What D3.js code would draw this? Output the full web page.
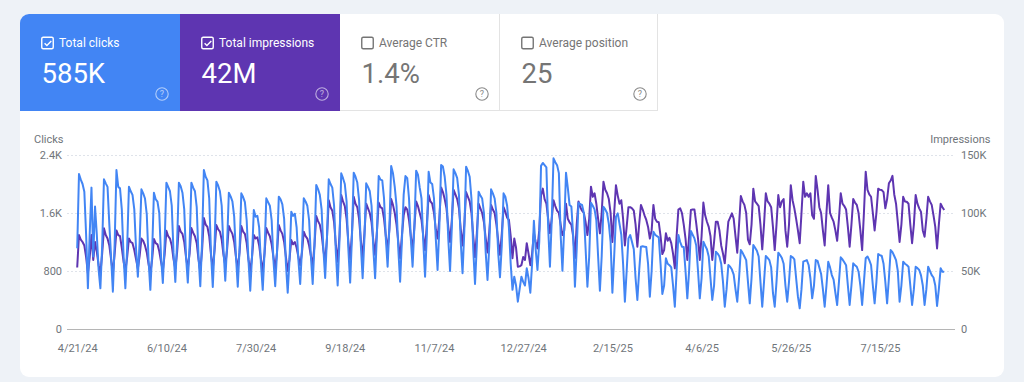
<!DOCTYPE html>
<html><head><meta charset="utf-8">
<script src="https://cdn.jsdelivr.net/npm/d3@7"></script>
<style>
html,body{margin:0;padding:0;background:#eef2f7;}
svg{display:block;font-family:Roboto,"Noto Sans",sans-serif;}
</style></head>
<body><svg id="chart" width="1024" height="382"></svg>
<script>
// ---------- data ----------
const startDate = "2024-04-21"; // first day, one value per day
const clicks = [
1113,2137,2060,2000,1894,1300,561,
1300,1950,1000,1690,1300,820,561,
1150,2064,2009,1960,1450,990,515,
1180,2193,1960,1940,1650,1000,561,
1120,1963,1900,1850,1650,1100,720,
1200,1926,1870,1800,1580,950,540,
1050,1880,1790,1756,1600,1000,634,
1180,2018,1960,1900,1700,1050,650,
1200,2018,1970,1880,1650,1000,640,
1150,2018,1950,1900,1680,1000,590,
1200,2193,2100,2050,1800,1050,580,
1150,2032,1980,1900,1700,1100,666,
1150,1880,1830,1760,1550,1000,583,
1100,1871,1820,1750,1500,950,528,
1000,1641,1549,1560,1400,900,540,
1050,1802,1750,1700,1500,950,590,
1050,1825,1790,1720,1520,900,500,
950,1618,1560,1590,1400,950,620,
1100,1802,1760,1700,1500,1000,620,
1150,1986,1930,1850,1650,1100,703,
1250,2064,2000,1950,1700,1050,600,
1200,2147,2080,2000,1760,1100,640,
1250,2156,2100,2020,1780,1150,700,
1250,2009,1960,1900,1700,1100,700,
1300,2110,2060,2050,1800,1250,860,
1400,2248,2150,1960,1700,1100,653,
1200,1850,2110,2080,1800,1250,860,
1400,2183,2130,1950,1800,1200,722,
1300,2170,2020,2000,1800,1250,814,
1400,2262,2240,2100,1850,1250,800,
1400,2202,2150,2080,1850,1200,770,
1350,2238,2180,2100,1800,1100,621,
1150,1894,1840,1800,1600,1050,676,
1150,1926,1870,1800,1600,1050,713,
1150,1871,1825,1700,1400,900,540,
722,600,377,550,722,650,600,
837,700,500,900,1493,1100,814,
1200,2250,2290,2260,2230,1400,859,
1500,2354,2300,2260,2150,1300,804,
1400,2156,1950,1710,1690,1300,583,
1100,1742,1720,1710,1600,1100,583,
1000,1742,1700,1650,1500,1000,528,
1000,1687,1650,1600,1450,1200,500,
1000,1550,1595,1450,1300,900,377,
800,1250,1296,1200,1100,700,400,
800,1135,1140,1135,1130,900,445,
800,1342,1300,1280,1264,900,483,
600,975,900,880,850,600,308,
800,1296,1200,1135,1130,800,423,
800,1351,1300,1250,1150,800,423,
700,1204,1150,1100,1000,700,400,
600,1066,1040,1000,900,650,308,
550,883,860,820,750,550,377,
700,1089,1050,1000,950,650,354,
700,1158,1120,1080,1000,650,308,
650,1007,980,950,850,500,308,
650,1052,1020,980,900,600,377,
650,1007,990,960,700,450,285,
550,928,940,951,883,700,423,
600,951,940,850,760,550,308,
600,928,850,744,680,500,331,
650,989,960,920,880,600,331,
600,906,880,859,790,600,331,
650,975,1000,950,883,600,354,
650,1034,1020,1007,900,650,354,
700,1089,1060,1007,950,800,377,
600,928,900,883,860,600,331,
550,859,840,814,740,600,331,
550,859,800,744,710,600,317,
550,837,790,790
];
const impressionsK = [
53,81,77,75,72,62,48,
62,81,59.5,75,66.6,55,48,
65,86.8,81,78,72,60,48,
65,85,81,80,70,58,50,
62,78,75,74,68,60,52,
63,78,76,72,66,56,48,
60,77.6,74,73,67,58,50,
64,84.7,80,78,72,60,52,
66,88.8,84,82,75,62,52,
65,87,83,80,74,60,50,
68,95.7,90,88,80,64,52,
68,89.6,86,84,77,64,55,
68,88.8,85,82,75,62,52,
66,88.8,84,82,74,60,50,
62,81,78,79,72,60,50,
65,87,83,80,73,62,52,
66,89.6,85,82,75,62,50,
60,76.7,73,75,70,62,55,
66,83.9,80,78,72,63,55,
72,97.4,93,90,82,68,58,
78,111,105,102,92,72,58,
80,115.5,110,106,95,75,60,
82,114,108,105,95,76,62,
82,108,104,100,92,76,64,
84,109,105,104,95,80,68,
86,112,107,100,90,75,61,
80,98,105,103,94,80,68,
88,110,106,100,94,80,68,
90,115.5,110,108,100,86,78,
95,122,118,112,104,88,75,
94,120,116,112,104,86,72,
90,118,114,110,100,80,62,
82,108,104,100,92,78,66,
84,107,103,100,90,76,64,
82,105,101,96,94,80,61,
78,70,53.7,54,55,62,59.5,
74,65,55,65,82.5,75,69.5,
85,115,121,112,108,95,82.7,
95,111,106,102,100,90,81,
85,108,95,92,90,80,61,
90,110,105,102,100,92,81,
95,122.7,114,117,108,95,82.5,
100,127,120,117,112,100,75,
100,124,115,108,111,95,72,
88,105,105,104,102,90,71,
90,107,103,98,94,88,78,
85,107,95,92.5,92,80,64.6,
68,82.5,76,78.6,74,65,52.3,
80,103,104,100,90,78,59.5,
80,102.6,103,103,91,78,59.5,
80,109,98,92.5,88,80,59.5,
75,92.5,92.5,85,72,65,56.6,
75,92.5,96,99.7,95,80,65.8,
90,114.6,110,107,100,77,73,
90,121,110,108,106,90,68.7,
90,117,110,108,105,88,68,
90,115.5,105,110,112,85,71,
90,124,111,104,95,85,74,
100,127,114,117,114,117,98,
95,132,120,105,100,85,72,
100,124,100,96,92.5,85,76,
95,117,108,106,103,88,71,
90,112,109,107,100,85,68,
100,135.6,120,116,114,100,85,
100,121,120,119.8,118,104,112,
125.6,128,132,116,108,92,75,
90,114,110,109.7,108,90,74,
90,115.5,108,104,101,85,79.6,
95,114,110,107,98,88,69.5,
90,108,105,102.6
];
const leftTicks = [0, 800, 1600, 2400];
const leftTickLabels = ["0", "800", "1.6K", "2.4K"];
const rightTicksK = [0, 50, 100, 150];
const rightTickLabels = ["0", "50K", "100K", "150K"];
const dateTickLabels = ["4/21/24","6/10/24","7/30/24","9/18/24","11/7/24","12/27/24","2/15/25","4/6/25","5/26/25","7/15/25"];
const metricNames = ["Total clicks", "Total impressions", "Average CTR", "Average position"];
const metricValues = ["585K", "42M", "1.4%", "25"];
const metricSelected = [true, true, false, false];
const metricColors = ["#4285f4", "#5e35b1", null, null];

// ---------- drawing ----------
const svg = d3.select("#chart");
const defs = svg.append("defs");
defs.append("clipPath").attr("id", "cardClip")
  .append("rect").attr("x", 20).attr("y", 14).attr("width", 984).attr("height", 363).attr("rx", 9);

svg.append("rect").attr("x", 20).attr("y", 14).attr("width", 984).attr("height", 363)
  .attr("rx", 9).attr("fill", "#ffffff");

const tiles = svg.append("g").attr("clip-path", "url(#cardClip)");
const tileX = [20, 180, 340, 500];
const tileW = [160, 160, 160, 158];
const grey = "#757575";

metricNames.forEach((name, i) => {
  const tx = tileX[i], w = tileW[i];
  const g = tiles.append("g");
  const sel = metricSelected[i];
  const fg = sel ? "#ffffff" : grey;
  if (sel) {
    g.append("rect").attr("x", tx).attr("y", 14).attr("width", w).attr("height", 97).attr("fill", metricColors[i]);
  } else {
    g.append("line").attr("x1", tx + w - 0.5).attr("x2", tx + w - 0.5).attr("y1", 14).attr("y2", 111)
      .attr("stroke", "#e3e3e3").attr("stroke-width", 1);
    g.append("line").attr("x1", tx).attr("x2", tx + w).attr("y1", 110.5).attr("y2", 110.5)
      .attr("stroke", "#e3e3e3").attr("stroke-width", 1);
  }
  // checkbox
  g.append("rect").attr("x", tx + 21.75).attr("y", 37.25).attr("width", 11.5).attr("height", 11.5)
    .attr("rx", 1.5).attr("fill", "none").attr("stroke", fg).attr("stroke-width", 1.4);
  if (sel) {
    g.append("path").attr("d", `M${tx + 24.6},${43.2} l2.3,2.3 l4.4,-4.6`)
      .attr("fill", "none").attr("stroke", fg).attr("stroke-width", 1.4);
  }
  g.append("text").attr("x", tx + 39).attr("y", 47.3).attr("font-size", 12)
    .attr("fill", fg).text(name);
  g.append("text").attr("x", tx + 21.5).attr("y", 83.3).attr("font-size", 27.5)
    .attr("fill", fg).text(metricValues[i]);
  // help icon
  const hc = sel ? "rgba(255,255,255,0.6)" : "#8a8a8a";
  g.append("circle").attr("cx", tx + w - 18).attr("cy", 94).attr("r", 6.2)
    .attr("fill", "none").attr("stroke", hc).attr("stroke-width", 1.1);
  g.append("text").attr("x", tx + w - 18).attr("y", 97.3).attr("text-anchor", "middle")
    .attr("font-size", 9).attr("fill", hc).text("?");
});

// scales
const parseDay = d3.timeParse("%Y-%m-%d");
const start = parseDay(startDate);
const dates = clicks.map((_, i) => d3.timeDay.offset(start, i));
const x = d3.scaleTime().domain([start, dates[dates.length - 1]]).range([77.2, 944.2]);
const yL = d3.scaleLinear().domain([0, 2400]).range([329, 155]);
const yR = d3.scaleLinear().domain([0, 150]).range([329, 155]);

// gridlines
const grid = svg.append("g");
grid.selectAll("line.g").data(leftTicks.filter(d => d > 0)).join("line")
  .attr("x1", 67).attr("x2", 955).attr("y1", d => Math.round(yL(d)) + 0.5).attr("y2", d => Math.round(yL(d)) + 0.5)
  .attr("stroke", "#dfe3ea").attr("stroke-width", 1).attr("stroke-dasharray", "2,2");
grid.append("line").attr("x1", 67).attr("x2", 955).attr("y1", yL(0) + 0.5).attr("y2", yL(0) + 0.5)
  .attr("stroke", "#b5b5b5").attr("stroke-width", 1);

const textColor = "#70757a";
// left axis
const axL = svg.append("g").attr("transform", "translate(62,0)")
  .call(d3.axisLeft(yL).tickValues(leftTicks).tickFormat((d, i) => leftTickLabels[i]).tickSize(0).tickPadding(0));
// right axis
const axR = svg.append("g").attr("transform", "translate(961,0)")
  .call(d3.axisRight(yR).tickValues(rightTicksK).tickFormat((d, i) => rightTickLabels[i]).tickSize(0).tickPadding(0));
// bottom axis
const parseTick = d3.timeParse("%m/%d/%y");
const tickDates = dateTickLabels.map(parseTick);
const axB = svg.append("g").attr("transform", "translate(0,344)")
  .call(d3.axisBottom(x).tickValues(tickDates).tickFormat((d, i) => dateTickLabels[i]).tickSize(0).tickPadding(0));
[axL, axR, axB].forEach(a => {
  a.select(".domain").remove();
  a.selectAll("text").attr("fill", textColor).attr("font-size", 11).attr("font-family", "Roboto, sans-serif");
});

svg.append("text").attr("x", 34).attr("y", 142.5).attr("font-size", 11).attr("fill", textColor).text("Clicks");
svg.append("text").attr("x", 990.5).attr("y", 142.5).attr("text-anchor", "end").attr("font-size", 11)
  .attr("fill", textColor).text("Impressions");

// lines
const lineImp = d3.line().x((d, i) => x(dates[i])).y(d => yR(d));
const lineClk = d3.line().x((d, i) => x(dates[i])).y(d => yL(d));
svg.append("path").datum(impressionsK).attr("d", lineImp).attr("fill", "none")
  .attr("stroke", "#5e35b1").attr("stroke-width", 2).attr("stroke-linejoin", "round");
svg.append("path").datum(clicks).attr("d", lineClk).attr("fill", "none")
  .attr("stroke", "#4285f4").attr("stroke-width", 2).attr("stroke-linejoin", "round");
</script>
</body></html>
